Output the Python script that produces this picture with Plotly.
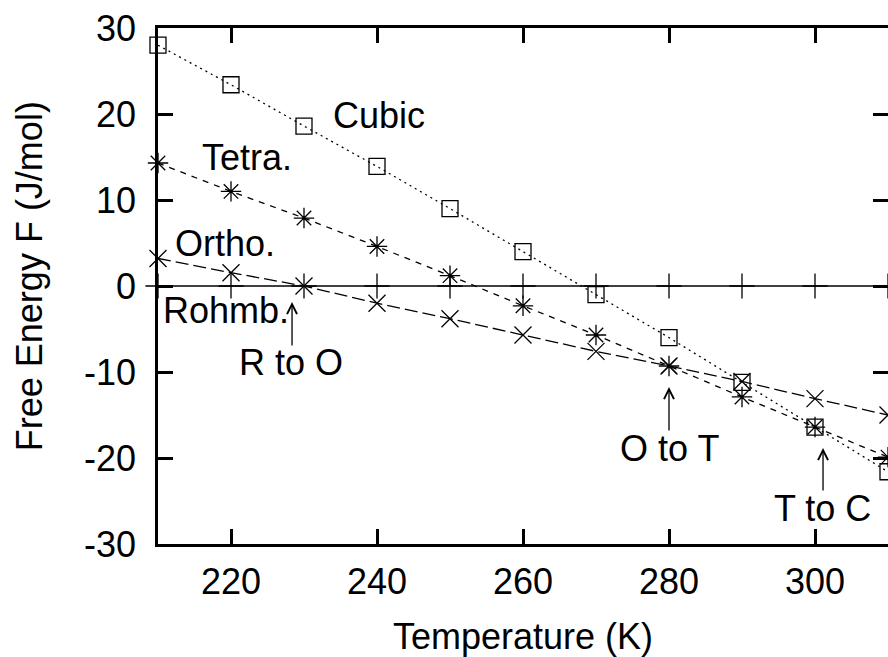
import plotly.graph_objects as go

temperature = [210, 220, 230, 240, 250, 260, 270, 280, 290, 300, 310]
cubic = [28.0, 23.4, 18.6, 13.9, 9.0, 4.0, -1.0, -6.0, -11.2, -16.4, -21.6]
tetra = [14.3, 11.0, 7.9, 4.6, 1.2, -2.3, -5.7, -9.3, -12.9, -16.4, -19.9]
ortho = [3.2, 1.55, 0.0, -2.0, -3.8, -5.7, -7.6, -9.3, -11.1, -13.1, -15.0]
rohmb = [0, 0, 0, 0, 0, 0, 0, 0, 0, 0, 0]

x_ticks = [220, 240, 260, 280, 300]
y_ticks = [-30, -20, -10, 0, 10, 20, 30]
y_tick_text = ["-30", "-20", "-10", "0", "10", "20", "30"]

phase_labels = [("Cubic", 240.27, 19.88), ("Tetra.", 222.19, 14.94),
                ("Ortho.", 219.18, 5.0), ("Rohmb.", 219.25, -2.85)]
transition_labels = [("R to O", 228.22, -8.95), ("O to T", 280.0, -18.9),
                     ("T to C", 300.96, -25.87)]
# arrows: (x, head_y, tail_y)
transition_arrows = [(228.36, -1.86, -7.09), (280.0, -11.74, -16.98),
                     (301.1, -18.84, -23.95)]

FONT = "Liberation Sans, Arial, Helvetica, sans-serif"
FS = 36

fig = go.Figure()

def add(y, dash, symbol, size, lw):
    fig.add_trace(go.Scatter(
        x=temperature, y=y, mode="lines+markers",
        line=dict(color="black", width=lw, dash=dash),
        marker=dict(symbol=symbol, size=size, color="black",
                    line=dict(color="black", width=1.3)),
        cliponaxis=False, showlegend=False))

add(rohmb, "solid", "cross-thin-open", 18, 1.5)
add(ortho, "13px,5px", "x-thin-open", 17, 1.3)
add(tetra, "6px,6px", "asterisk-open", 17, 1.3)
add(cubic, "2px,4px", "square-open", 16, 1.3)

annotations = []
for t, x, y in phase_labels + transition_labels:
    annotations.append(dict(x=x, y=y, xref="x", yref="y", text=t,
                            showarrow=False, xanchor="center", yanchor="middle",
                            font=dict(family=FONT, size=FS, color="black")))
for x, yh, yt in transition_arrows:
    annotations.append(dict(x=x, y=yh, ax=x, ay=yt, xref="x", yref="y",
                            axref="x", ayref="y", text="", showarrow=True,
                            arrowhead=5, arrowsize=1.5, arrowwidth=1.3,
                            arrowcolor="black", standoff=0, startstandoff=0))
# y-axis title
annotations.append(dict(x=-0.1767, y=0.519, xref="paper", yref="paper",
                        text="Free Energy F (J/mol)", textangle=-90,
                        showarrow=False, xanchor="center", yanchor="middle",
                        font=dict(family=FONT, size=FS, color="black")))

fig.update_layout(
    width=888, height=657,
    margin=dict(l=158, r=0, t=28, b=113, autoexpand=False),
    paper_bgcolor="white", plot_bgcolor="white",
    font=dict(family=FONT, size=FS, color="black"),
    annotations=annotations,
    xaxis=dict(range=[210, 310], tickvals=x_ticks, ticks="inside", ticklen=15,
               tickwidth=2.5, tickcolor="black", showline=True, linewidth=2.5,
               linecolor="black", mirror="ticks", showgrid=False, zeroline=False,
               ticklabelstandoff=4,
               title=dict(text="Temperature (K)", standoff=24,
                          font=dict(family=FONT, size=FS))),
    yaxis=dict(range=[-30, 30], tickvals=y_ticks, ticktext=y_tick_text,
               ticks="inside", ticklen=15,
               tickwidth=2.5, tickcolor="black", showline=True, linewidth=2.5,
               linecolor="black", mirror="ticks", showgrid=False, zeroline=False,
               ticklabelstandoff=12),
)

fig.write_html("out.html")
